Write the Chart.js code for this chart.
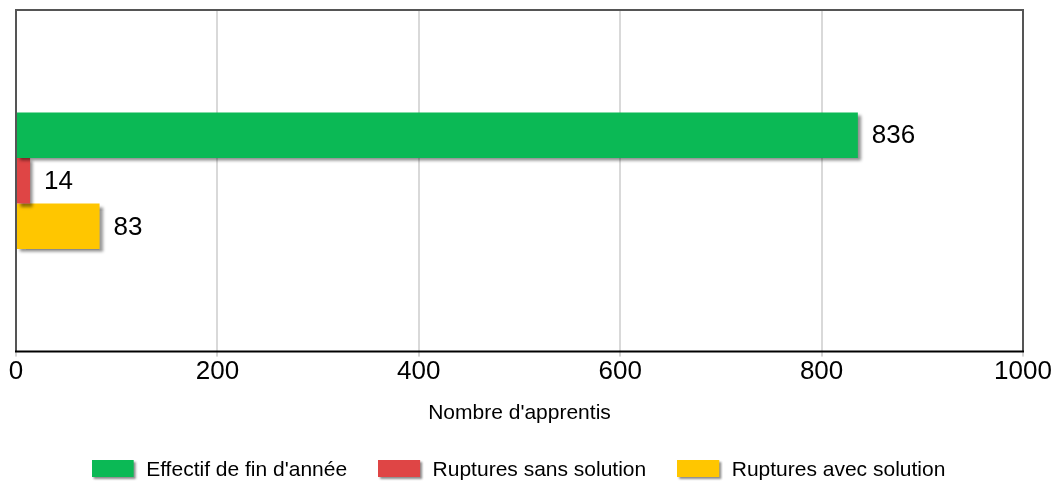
<!DOCTYPE html>
<html>
<head>
<meta charset="utf-8">
<script src="https://cdn.jsdelivr.net/npm/chart.js@4/dist/chart.umd.min.js"></script>
<style>
  html, body { margin: 0; padding: 0; background: #fff; }
  #wrap { width: 1056px; height: 481px; }
</style>
</head>
<body>
<div id="wrap"><canvas id="chart"></canvas></div>
<script>
// values
const categories = [""];
const seriesNames = ["Effectif de fin d'année", "Ruptures sans solution", "Ruptures avec solution"];
const seriesValues = [[836], [14], [83]];
const seriesColors = ["#0bb955", "#df4545", "#ffc600"];
const xTicks = [0, 200, 400, 600, 800, 1000];
const axisTitle = "Nombre d'apprentis";

const FONT = "'Liberation Sans', Arial, sans-serif";

// legend swatch with the little drop shadow
function makeSwatch(color) {
    const c = document.createElement('canvas');
    c.width = 46;
    c.height = 21;
    const g = c.getContext('2d');
    g.shadowColor = 'rgba(0,0,0,0.45)';
    g.shadowOffsetX = 2;
    g.shadowOffsetY = 2;
    g.shadowBlur = 2;
    g.fillStyle = color;
    g.fillRect(0, 0, 42, 17);
    return c;
}

// shadow under the bars
const barShadow = {
    id: 'barShadow',
    beforeDatasetsDraw(chart) {
        const ctx = chart.ctx;
        ctx.save();
        ctx.shadowColor = 'rgba(0,0,0,0.45)';
        ctx.shadowOffsetX = 3;
        ctx.shadowOffsetY = 3;
        ctx.shadowBlur = 3;
    },
    afterDatasetsDraw(chart) {
        chart.ctx.restore();
    }
};

// frame and value labels
const frameAndLabels = {
    id: 'frameAndLabels',
    afterDatasetsDraw(chart) {
        const ctx = chart.ctx;
        const a = chart.chartArea;
        ctx.save();
        ctx.strokeStyle = '#555';
        ctx.lineWidth = 2;
        ctx.beginPath();
        ctx.moveTo(a.left, a.bottom);
        ctx.lineTo(a.left, a.top);
        ctx.lineTo(a.right, a.top);
        ctx.lineTo(a.right, a.bottom);
        ctx.stroke();
        ctx.strokeStyle = '#000';
        ctx.beginPath();
        ctx.moveTo(a.left - 1, a.bottom);
        ctx.lineTo(a.right + 1, a.bottom);
        ctx.stroke();

        ctx.fillStyle = '#000';
        ctx.font = '26px ' + FONT;
        ctx.textAlign = 'left';
        ctx.textBaseline = 'middle';
        chart.data.datasets.forEach((ds, i) => {
            chart.getDatasetMeta(i).data.forEach((bar, j) => {
                ctx.fillText(String(ds.data[j]), bar.x + 14, bar.y + 1);
            });
        });
        ctx.restore();
    }
};

const datasets = seriesNames.map((name, i) => ({
    label: name,
    data: seriesValues[i],
    backgroundColor: seriesColors[i],
    borderWidth: 0,
    barPercentage: 1.0,
    categoryPercentage: 0.4,
}));

new Chart(document.getElementById('chart'), {
    type: 'bar',
    data: { labels: categories, datasets: datasets },
    options: {
        indexAxis: 'y',
        responsive: true,
        maintainAspectRatio: false,
        animation: false,
        layout: { padding: { left: 16, right: 33, top: 10, bottom: -10 } },
        scales: {
            x: {
                min: 0,
                max: 1000,
                afterBuildTicks(axis) {
                    axis.ticks = xTicks.map(v => ({ value: v }));
                },
                grid: { color: '#d9d9d9', lineWidth: 2, tickLength: 5, tickColor: '#aaa', tickWidth: 1 },
                border: { display: false },
                ticks: {
                    color: '#000',
                    font: { family: FONT, size: 26 },
                    padding: 0,
                    maxRotation: 0,
                    callback: (v) => String(v)
                },
                title: { display: true, text: axisTitle, color: '#000', font: { family: FONT, size: 21 }, padding: { top: 13, bottom: 1 } }
            },
            y: { display: false }
        },
        plugins: {
            legend: {
                position: 'bottom',
                labels: {
                    color: '#000',
                    font: { family: FONT, size: 21 },
                    usePointStyle: true,
                    pointStyleWidth: 42,
                    boxHeight: 17,
                    padding: 33,
                    generateLabels(chart) {
                        return chart.data.datasets.map((ds, i) => ({
                            text: ds.label,
                            fillStyle: ds.backgroundColor,
                            strokeStyle: ds.backgroundColor,
                            lineWidth: 0,
                            pointStyle: makeSwatch(ds.backgroundColor),
                            hidden: false,
                            datasetIndex: i
                        }));
                    }
                }
            },
            tooltip: { enabled: false }
        }
    },
    plugins: [barShadow, frameAndLabels]
});
</script>
</body>
</html>
